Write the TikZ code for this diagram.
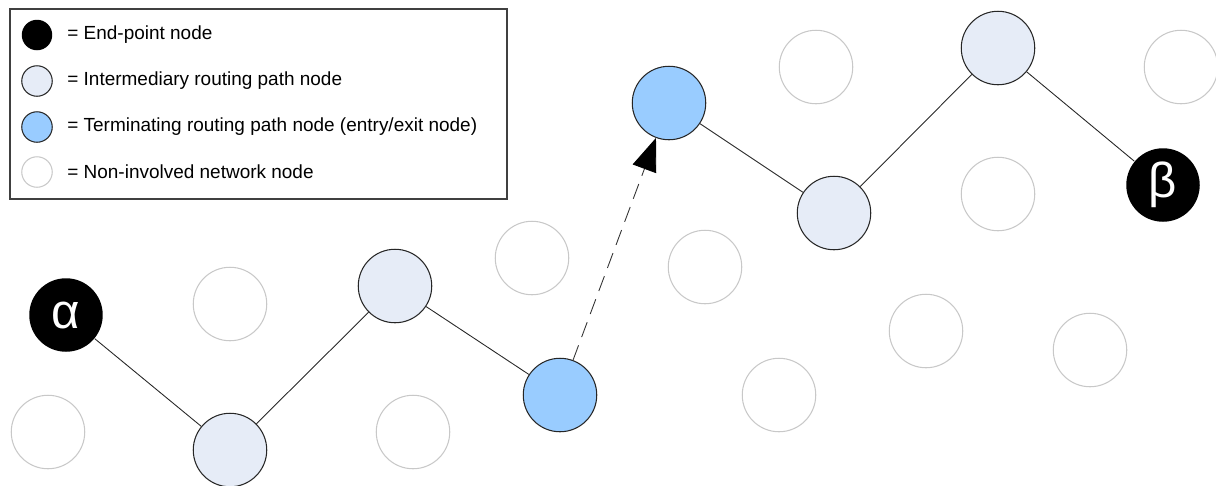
\documentclass[tikz,border=0pt]{standalone}
\usepackage{fontspec}
\setmainfont{Liberation Sans}
\usepackage{xcolor}
\usetikzlibrary{arrows.meta}

\definecolor{pathlight}{HTML}{E6ECF7}
\definecolor{pathblue}{HTML}{99CCFF}
\definecolor{idlegray}{HTML}{C8C8C8}

\tikzset{
  netnode/.style={circle, minimum size=1.47cm, inner sep=0pt, line width=0.6pt},
  endpoint/.style={netnode, fill=black, text=white, font=\fontsize{28}{30}\selectfont},
  relay/.style={netnode, draw=black!85, fill=pathlight},
  exitnode/.style={netnode, draw=black!85, fill=pathblue},
  idle/.style={netnode, draw=idlegray},
  keynode/.style={circle, minimum size=0.61cm, inner sep=0pt, line width=0.6pt},
  keytext/.style={anchor=west, inner sep=0pt, font=\fontsize{10.8}{13}\selectfont},
  hop/.style={line width=0.5pt, black!85},
}

\begin{document}
\begin{tikzpicture}[x=0.02cm, y=-0.02cm]
    \useasboundingbox (0,0) rectangle (1216,485);

    % Legend
    \draw[line width=0.6pt, black!75] (10,9) rectangle (507,199);
    \node[keynode, fill=black] (kend) at (37,35) {};
    \node[keynode, draw=black!85, fill=pathlight] (krelay) at (37,81) {};
    \node[keynode, draw=black!85, fill=pathblue] (kexit) at (37,127) {};
    \node[keynode, draw=idlegray] (kidle) at (37,172) {};
    \node[keytext] (tend) at (67,35) {= End-point node};
    \node[keytext] (trelay) at (67,81) {= Intermediary routing path node};
    \node[keytext] (texit) at (67,127) {= Terminating routing path node (entry/exit node)};
    \node[keytext] (tidle) at (67,172) {= Non-involved network node};

    % Non-involved nodes
    \node[idle] (n1) at (48,432) {};
    \node[idle] (n2) at (230,304) {};
    \node[idle] (n3) at (413,432) {};
    \node[idle] (n4) at (532,258) {};
    \node[idle] (n5) at (705,267) {};
    \node[idle] (n6) at (779,395) {};
    \node[idle] (n7) at (926,331) {};
    \node[idle] (n8) at (1090,350) {};
    \node[idle] (n9) at (816,67) {};
    \node[idle] (n10) at (998,194) {};
    \node[idle] (n11) at (1181,67) {};

    % Routing path nodes
    \node[endpoint] (alpha) at (66,315) {α};
    \node[relay] (r1) at (230,450) {};
    \node[relay] (r2) at (395,286) {};
    \node[exitnode] (entry) at (560,395) {};
    \node[exitnode] (exit) at (669,103) {};
    \node[relay] (r3) at (834,213) {};
    \node[relay] (r4) at (998,48) {};
    \node[endpoint] (beta) at (1163,185) {β};

    % Path links
    \draw[hop] (alpha) -- (r1) -- (r2) -- (entry);
    \draw[hop] (exit) -- (r3) -- (r4) -- (beta);

    % Jump between entry and exit
    \draw[line width=0.5pt, black!80, dash pattern=on 9pt off 5pt,
          -{Triangle[length=0.66cm, width=0.5cm, fill=black, color=black]}] (entry) -- (exit);
\end{tikzpicture}
\end{document}
